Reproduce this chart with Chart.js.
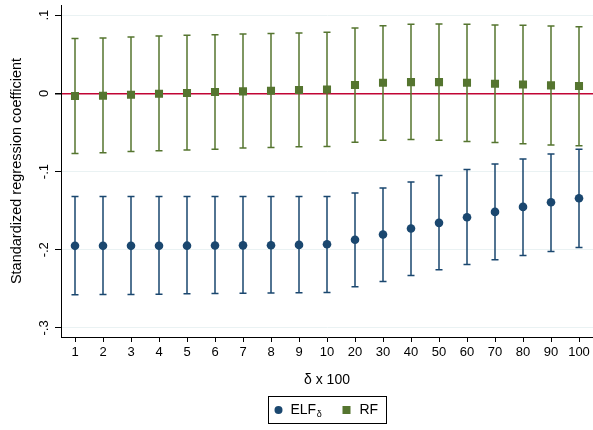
<!DOCTYPE html>
<html>
<head>
<meta charset="utf-8">
<script src="https://cdn.jsdelivr.net/npm/chart.js@4/dist/chart.umd.min.js"></script>
<style>
  html, body { margin: 0; padding: 0; background: #fff; }
  #wrap { width: 593px; height: 430px; }
</style>
</head>
<body>
<div id="wrap"><canvas id="coef-chart" width="593" height="430"></canvas></div>
<script>
// delta x 100 values along the x axis
const deltaLabels = ['1', '2', '3', '4', '5', '6', '7', '8', '9', '10',
    '20', '30', '40', '50', '60', '70', '80', '90', '100'];

// ELF_delta: point estimates and 95% bounds
const elfEst = [-0.1950, -0.1950, -0.1950, -0.1949, -0.1948, -0.1946, -0.1944, -0.1942, -0.1938, -0.1930,
    -0.1873, -0.1805, -0.1729, -0.1656, -0.1584, -0.1516, -0.1452, -0.1393, -0.1341];
const elfLow = [-0.2575, -0.2573, -0.2571, -0.2568, -0.2564, -0.2561, -0.2558, -0.2554, -0.2550, -0.2546,
    -0.2474, -0.2406, -0.2329, -0.2257, -0.2189, -0.2129, -0.2074, -0.2023, -0.1972];
const elfHigh = [-0.1320, -0.1320, -0.1320, -0.1320, -0.1320, -0.1320, -0.1320, -0.1320, -0.1320, -0.1318,
    -0.1273, -0.1210, -0.1133, -0.1052, -0.0975, -0.0903, -0.0839, -0.0775, -0.0716];

// RF: point estimates and 95% bounds
const rfEst = [-0.0034, -0.0030, -0.0017, -0.0005, 0.0004, 0.0017, 0.0025, 0.0033, 0.0042, 0.0050,
    0.0106, 0.0135, 0.0144, 0.0144, 0.0135, 0.0122, 0.0114, 0.0102, 0.0093];
const rfLow = [-0.0770, -0.0760, -0.0744, -0.0735, -0.0726, -0.0714, -0.0700, -0.0693, -0.0684, -0.0680,
    -0.0624, -0.0599, -0.0591, -0.0599, -0.0616, -0.0629, -0.0646, -0.0659, -0.0671];
const rfHigh = [0.0700, 0.0708, 0.0720, 0.0734, 0.0743, 0.0751, 0.0760, 0.0764, 0.0772, 0.0780,
    0.0836, 0.0866, 0.0883, 0.0887, 0.0883, 0.0874, 0.0870, 0.0861, 0.0853];

// y axis ticks and their printed labels
const yTicks = [-0.3, -0.2, -0.1, 0, 0.1];
const yTickLabels = ['-.3', '-.2', '-.1', '0', '.1'];

const NAVY = '#1a476f';
const GREEN = '#55752f';
const FONT = "'Liberation Sans', Arial, sans-serif";

// Capped vertical bars for each confidence interval, drawn under the markers
const errorBars = {
    id: 'errorBars',
    beforeDatasetsDraw(chart) {
        const { ctx, scales: { x, y } } = chart;
        const sets = [
            { low: elfLow, high: elfHigh, color: NAVY },
            { low: rfLow, high: rfHigh, color: GREEN }
        ];
        ctx.save();
        ctx.lineWidth = 1.5;
        sets.forEach(s => {
            ctx.strokeStyle = s.color;
            s.low.forEach((lo, i) => {
                const px = x.getPixelForValue(i);
                const yLo = y.getPixelForValue(lo);
                const yHi = y.getPixelForValue(s.high[i]);
                ctx.beginPath();
                ctx.moveTo(px, yLo);
                ctx.lineTo(px, yHi);
                ctx.moveTo(px - 3.5, yLo);
                ctx.lineTo(px + 3.5, yLo);
                ctx.moveTo(px - 3.5, yHi);
                ctx.lineTo(px + 3.5, yHi);
                ctx.stroke();
            });
        });
        ctx.restore();
    }
};

// Rotated y tick labels and the boxed legend with the subscript
const extras = {
    id: 'extras',
    afterDraw(chart) {
        const { ctx, scales: { y } } = chart;
        ctx.save();
        ctx.fillStyle = '#000';
        ctx.font = '13px ' + FONT;
        ctx.textAlign = 'center';
        ctx.textBaseline = 'middle';
        yTicks.forEach((v, i) => {
            ctx.save();
            ctx.translate(44, y.getPixelForValue(v));
            ctx.rotate(-Math.PI / 2);
            ctx.fillText(yTickLabels[i], 0, 0);
            ctx.restore();
        });

        // legend
        const bx = 268.5, by = 396.5, bw = 118, bh = 27;
        const cy = by + bh / 2;
        ctx.strokeStyle = '#000';
        ctx.lineWidth = 1;
        ctx.strokeRect(bx, by, bw, bh);

        ctx.fillStyle = NAVY;
        ctx.beginPath();
        ctx.arc(bx + 10, cy, 4, 0, Math.PI * 2);
        ctx.fill();

        ctx.fillStyle = '#000';
        ctx.textAlign = 'left';
        ctx.font = '14px ' + FONT;
        ctx.fillText('ELF', bx + 22, cy);
        const w = ctx.measureText('ELF').width;
        ctx.font = '9px ' + FONT;
        ctx.fillText('δ', bx + 22 + w + 0.5, cy + 5);

        ctx.fillStyle = GREEN;
        ctx.fillRect(bx + 74, cy - 4, 8, 8);

        ctx.fillStyle = '#000';
        ctx.font = '14px ' + FONT;
        ctx.fillText('RF', bx + 91, cy);
        ctx.restore();
    }
};

new Chart(document.getElementById('coef-chart'), {
    type: 'line',
    data: {
        labels: deltaLabels,
        datasets: [{
            label: 'ELF',
            data: elfEst,
            showLine: false,
            pointStyle: 'circle',
            pointRadius: 4.3,
            pointBackgroundColor: NAVY,
            pointBorderColor: NAVY,
            pointBorderWidth: 0
        }, {
            label: 'RF',
            data: rfEst,
            showLine: false,
            pointStyle: 'rect',
            pointRadius: 5.7,
            pointBackgroundColor: GREEN,
            pointBorderColor: GREEN,
            pointBorderWidth: 0
        }]
    },
    options: {
        responsive: false,
        animation: false,
        layout: {
            autoPadding: false,
            padding: { top: 5, left: 0, right: 0, bottom: 0 }
        },
        plugins: {
            legend: { display: false },
            tooltip: { enabled: false }
        },
        scales: {
            x: {
                type: 'category',
                offset: true,
                grid: {
                    offset: false,
                    drawOnChartArea: false,
                    drawTicks: true,
                    tickLength: 5,
                    tickColor: '#000'
                },
                border: { color: '#000', width: 1 },
                ticks: {
                    color: '#000',
                    font: { family: FONT, size: 13 },
                    padding: 3,
                    maxRotation: 0,
                    autoSkip: false
                },
                title: {
                    display: true,
                    text: 'δ x 100',
                    color: '#000',
                    font: { family: FONT, size: 14 },
                    padding: { bottom: 41 }
                },
                afterFit(scale) {
                    scale.height = 93;
                    // let the plot run to the right edge of the canvas
                    scale.paddingLeft = 0;
                    scale.paddingRight = 0;
                }
            },
            y: {
                min: -0.3116,
                max: 0.113,
                afterBuildTicks(scale) {
                    scale.ticks = yTicks.map(v => ({ value: v }));
                },
                grid: {
                    color: c => (c.tick && c.tick.value === 0) ? '#c10534' : '#eaf2f3',
                    lineWidth: c => (c.tick && c.tick.value === 0) ? 1.5 : 1,
                    drawTicks: true,
                    tickLength: 6,
                    tickColor: '#000'
                },
                border: { color: '#000', width: 1 },
                ticks: { display: false },
                title: {
                    display: true,
                    text: 'Standardized regression coefficient',
                    color: '#000',
                    font: { family: FONT, size: 14.5 },
                    padding: { top: 8 }
                },
                afterFit(scale) { scale.width = 61; }
            }
        }
    },
    plugins: [errorBars, extras]
});
</script>
</body>
</html>
